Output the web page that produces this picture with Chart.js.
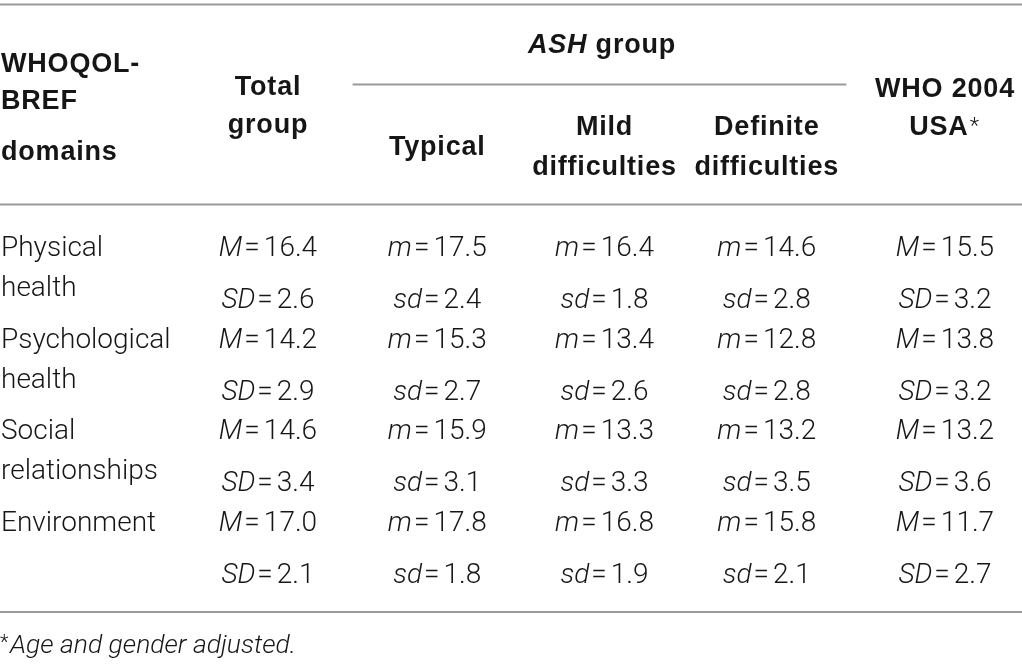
<!DOCTYPE html>
<html>
<head>
<meta charset="utf-8">
<script src="https://cdn.jsdelivr.net/npm/chart.js@4.4.0/dist/chart.umd.min.js"></script>
<style>
  html, body { margin: 0; padding: 0; background: #fff; }
  canvas { display: block; }
</style>
</head>
<body>
<canvas id="tableChart" width="1022" height="670"></canvas>
<script>
// table content
var domainLines = [['Physical', 'health'], ['Psychological', 'health'], ['Social', 'relationships'], ['Environment']];
var columnKeys = ['total', 'typical', 'mild', 'definite', 'who'];
var columnHeads = [['Total', 'group'], ['Typical'], ['Mild', 'difficulties'], ['Definite', 'difficulties'], ['WHO 2004', 'USA*']];
var firstHead = ['WHOQOL-', 'BREF', 'domains'];
var groupHead = ['ASH', ' group'];
var meanPrefix = ['M', 'm', 'm', 'm', 'M'];
var sdPrefix = ['SD', 'sd', 'sd', 'sd', 'SD'];
var footnote = 'Age and gender adjusted.';

var totalM = [16.4, 14.2, 14.6, 17.0];
var totalSD = [2.6, 2.9, 3.4, 2.1];
var typicalM = [17.5, 15.3, 15.9, 17.8];
var typicalSD = [2.4, 2.7, 3.1, 1.8];
var mildM = [16.4, 13.4, 13.3, 16.8];
var mildSD = [1.8, 2.6, 3.3, 1.9];
var definiteM = [14.6, 12.8, 13.2, 15.8];
var definiteSD = [2.8, 2.8, 3.5, 2.1];
var whoM = [15.5, 13.8, 13.2, 11.7];
var whoSD = [3.2, 3.2, 3.6, 2.7];

var meansByCol = [totalM, typicalM, mildM, definiteM, whoM];
var sdsByCol = [totalSD, typicalSD, mildSD, definiteSD, whoSD];

// styles
var ink = '#161616';
var ruleColor = '#9a9a9a';
var bodyFont = '300 28px Roboto, "Liberation Sans", sans-serif';
var bodyItalic = 'italic 300 28px Roboto, "Liberation Sans", sans-serif';
var headFont = 'bold 27px "Liberation Sans", Arial, sans-serif';
var headItalic = 'italic bold 27px "Liberation Sans", Arial, sans-serif';
var colNudge = [0, 0, -2, -9, 0];
var rowNudge = { m: -3, s: 3 };
var capHalf = 10;

var rowKeys = [];
domainLines.forEach(function (d, i) { rowKeys.push('m' + i); rowKeys.push('s' + i); });

function getDatasets() {
  var sets = [];
  columnKeys.forEach(function (col, ci) {
    var pts = [];
    meansByCol[ci].forEach(function (v, i) {
      pts.push({ x: col, y: 'm' + i, pre: meanPrefix[ci], num: v.toFixed(1) });
      pts.push({ x: col, y: 's' + i, pre: sdPrefix[ci], num: sdsByCol[ci][i].toFixed(1) });
    });
    sets.push({ label: columnHeads[ci].join(' '), data: pts, pointRadius: 0, pointHoverRadius: 0 });
  });
  return sets;
}

function drawCell(ctx, cx, cy, pre, num) {
  ctx.font = bodyItalic;
  var w1 = ctx.measureText(pre).width;
  ctx.font = bodyFont;
  var w2 = ctx.measureText('=').width;
  var w3 = ctx.measureText(num).width;
  var g1 = 2, g2 = 4;
  var x0 = cx - (w1 + g1 + w2 + g2 + w3) / 2;
  var base = cy + capHalf;
  ctx.textAlign = 'left';
  ctx.font = bodyItalic;
  ctx.fillText(pre, x0, base);
  ctx.font = bodyFont;
  ctx.fillText('=', x0 + w1 + g1, base);
  ctx.fillText(num, x0 + w1 + g1 + w2 + g2, base);
}

function rule(ctx, x1, x2, y) {
  ctx.beginPath();
  ctx.moveTo(x1, y);
  ctx.lineTo(x2, y);
  ctx.stroke();
}

var tablePlugin = {
  id: 'tableText',
  afterDatasetsDraw: function (chart) {
    var ctx = chart.ctx;
    var xs = chart.scales.x, ys = chart.scales.y;
    var W = chart.width;
    var half = (xs.getPixelForValue(1) - xs.getPixelForValue(0)) / 2;
    ctx.save();
    ctx.fillStyle = ink;
    ctx.textBaseline = 'alphabetic';

    // rules
    ctx.strokeStyle = ruleColor;
    ctx.lineWidth = 2;
    rule(ctx, 0, W, 4.5);
    rule(ctx, xs.getPixelForValue(1) - half, xs.getPixelForValue(3) + colNudge[3] + half - 5, 84.5);
    rule(ctx, 0, W, 204.5);
    rule(ctx, 0, W, 612);

    // header
    ctx.letterSpacing = '0.8px';
    ctx.font = headFont;
    ctx.textAlign = 'left';
    var leftBase = [72, 109, 160];
    firstHead.forEach(function (t, i) { ctx.fillText(t, 1, leftBase[i]); });

    var headBase = [[95, 133], [155], [135, 175], [135, 175], [97, 135]];
    columnHeads.forEach(function (lines, ci) {
      var cx = xs.getPixelForValue(ci) + colNudge[ci];
      lines.forEach(function (t, li) {
        var star = t.charAt(t.length - 1) === '*';
        var txt = star ? t.slice(0, -1) : t;
        ctx.font = headFont;
        var w = ctx.measureText(txt).width;
        var sw = 0;
        if (star) {
          ctx.font = '300 22px Roboto, sans-serif';
          sw = ctx.measureText('*').width + 2;
        }
        var x0 = cx - (w + sw) / 2;
        ctx.font = headFont;
        ctx.textAlign = 'left';
        ctx.fillText(txt, x0, headBase[ci][li]);
        if (star) {
          ctx.font = '300 22px Roboto, sans-serif';
          ctx.fillText('*', x0 + w + 1, headBase[ci][li] - 2);
        }
      });
    });

    // ASH group
    var gx = (xs.getPixelForValue(1) + xs.getPixelForValue(3) + colNudge[3]) / 2;
    ctx.font = headItalic;
    var ga = ctx.measureText(groupHead[0]).width;
    ctx.font = headFont;
    var gb = ctx.measureText(groupHead[1]).width;
    ctx.font = headItalic;
    ctx.fillText(groupHead[0], gx - (ga + gb) / 2, 53);
    ctx.font = headFont;
    ctx.fillText(groupHead[1], gx - (ga + gb) / 2 + ga, 53);
    ctx.letterSpacing = '0px';

    // row labels
    ctx.font = bodyFont;
    ctx.textAlign = 'left';
    domainLines.forEach(function (lines, i) {
      var y0 = ys.getPixelForValue(ys.getLabels().indexOf('m' + i)) + rowNudge.m;
      lines.forEach(function (t, li) { ctx.fillText(t, 1, y0 + capHalf + li * 40); });
    });

    // cells
    chart.data.datasets.forEach(function (ds, di) {
      var meta = chart.getDatasetMeta(di);
      meta.data.forEach(function (el, j) {
        var p = ds.data[j];
        var cy = el.y + (p.y.charAt(0) === 'm' ? rowNudge.m : rowNudge.s);
        drawCell(ctx, el.x + colNudge[di], cy, p.pre, p.num);
      });
    });

    // footnote
    ctx.font = '300 20px Roboto, sans-serif';
    ctx.fillText('*', 0, 649);
    ctx.font = 'italic 300 26.5px Roboto, "Liberation Sans", sans-serif';
    ctx.fillText(footnote, 10, 653);
    ctx.restore();
  }
};

var ctxT = document.getElementById('tableChart').getContext('2d');
var myChart = new Chart(ctxT, {
  type: 'scatter',
  data: { datasets: getDatasets() },
  options: {
    responsive: false,
    animation: false,
    events: [],
    layout: { padding: { left: 268, right: 77, top: 249, bottom: 100 } },
    plugins: { legend: { display: false }, tooltip: { enabled: false } },
    scales: {
      x: { type: 'category', labels: columnKeys, offset: false, display: false },
      y: { type: 'category', labels: rowKeys, offset: false, display: false }
    }
  },
  plugins: [tablePlugin]
});
</script>
</body>
</html>
